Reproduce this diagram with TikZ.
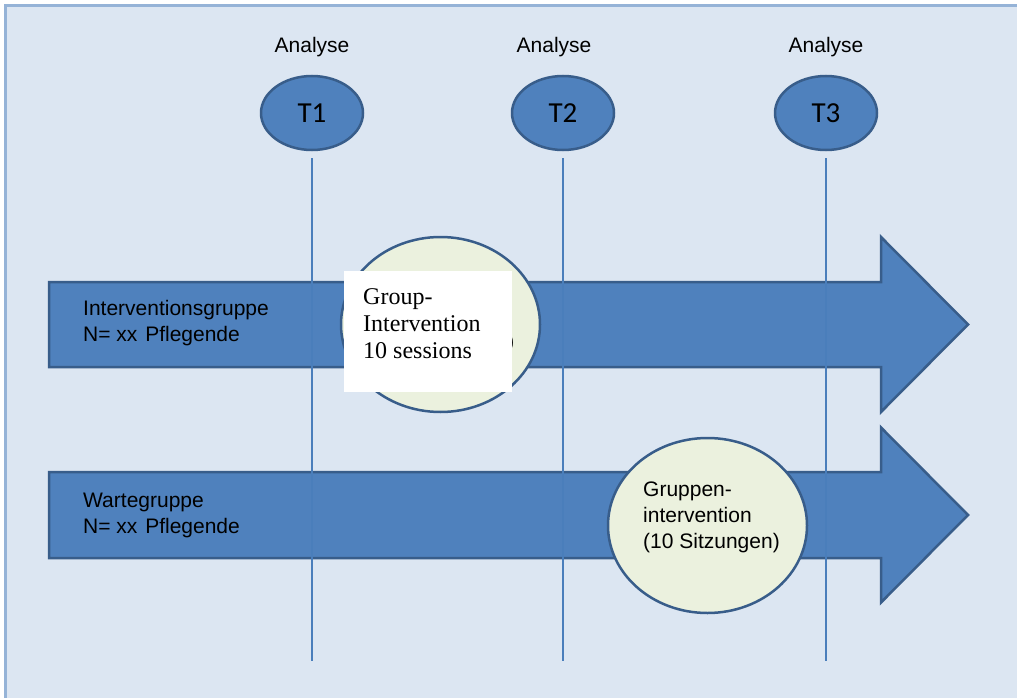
\documentclass[tikz,border=0pt]{standalone}
\usepackage{fontspec}
\setmainfont{Liberation Sans}
\newfontfamily\serifgroup{Liberation Serif}
\newfontfamily\calfont{Carlito}
\usetikzlibrary{shapes.geometric,calc}
\definecolor{bgblue}{HTML}{DCE6F2}
\definecolor{framebl}{HTML}{95B3D7}
\definecolor{accent}{HTML}{4F81BD}
\definecolor{accentdk}{HTML}{385D8A}
\definecolor{cream}{HTML}{EBF1DE}
\definecolor{vline}{HTML}{4A7EBB}
\begin{document}
\begin{tikzpicture}[x=1pt,y=-1pt,
  bigarrow/.style={fill=accent,draw=accentdk,line width=2.5pt,line join=miter},
  tnode/.style={ellipse,fill=accent,draw=accentdk,line width=2.5pt,minimum width=102pt,minimum height=74pt,inner sep=0pt,font=\calfont\fontsize{29}{34}\selectfont},
  bubble/.style={ellipse,fill=cream,draw=accentdk,line width=2.5pt,minimum width=199pt,minimum height=175pt,inner sep=0pt},
  sanstext/.style={inner sep=0pt,align=left,font=\fontsize{21}{26}\selectfont},
  analysetext/.style={inner sep=0pt,font=\fontsize{21}{26}\selectfont},
  timeline/.style={draw=vline,line width=1.3pt},
  whitebox/.style={fill=white,draw=none,minimum width=168pt,minimum height=121pt,inner sep=0pt},
  boxtext/.style={inner sep=0pt,align=left,font=\serifgroup\fontsize{24}{27}\selectfont}
]
\useasboundingbox (0,0) rectangle (1017,698);
\clip (0,0) rectangle (1017,698);
\fill[white] (0,0) rectangle (1017,698);
\draw[fill=bgblue,draw=framebl,line width=3pt] (5,6) rectangle (1030,710);

% Analyse labels
\node[analysetext,anchor=base] (a1) at (312,53) {Analyse};
\node[analysetext,anchor=base] (a2) at (554,53) {Analyse};
\node[analysetext,anchor=base] (a3) at (826,53) {Analyse};

% time points
\node[tnode] (t1) at (312,113) {T1};
\node[tnode] (t2) at (563,113) {T2};
\node[tnode] (t3) at (826,113) {T3};

% arrows
\draw[bigarrow] (49,282) -- (881,282) -- (881,237) -- (968,324.5) -- (881,412) -- (881,367) -- (49,367) -- cycle;
\draw[bigarrow] (49,472) -- (881,472) -- (881,427.5) -- (968,515) -- (881,602.5) -- (881,558) -- (49,558) -- cycle;

\node[sanstext,anchor=west] (ig) at (83,322.7) {Interventionsgruppe\\N= xx\ \kern2pt Pflegende};
\node[sanstext,anchor=west] (wg) at (83,515.7) {Wartegruppe\\N= xx\ \kern2pt Pflegende};

% bubbles
\node[bubble] (c1) at (440.5,324.5) {};
\node[bubble] (c2) at (707.5,525.5) {};
\node[sanstext,anchor=west] (c2t) at ($(c2.center)+(-64.5,-8)$) {Gruppen-\\intervention\\(10 Sitzungen)};
% only the closing parenthesis of the first bubble's text peeks out past the white box
\node[sanstext,anchor=base east] (c1t) at (514.5,348) {)};

% timelines
\coordinate (e1) at (312,661);
\coordinate (e2) at (563,661);
\coordinate (e3) at (826,661);
\draw[timeline] ([yshift=-7pt]t1.south) -- (e1);
\draw[timeline] ([yshift=-7pt]t2.south) -- (e2);
\draw[timeline] ([yshift=-7pt]t3.south) -- (e3);

% white overlay box
\node[whitebox,anchor=north west] (gbox) at (344,271) {};
\node[boxtext,anchor=north west] (gtext) at ($(gbox.north west)+(19,17)$) {Group-\\Intervention\\10 sessions};
\end{tikzpicture}
\end{document}
